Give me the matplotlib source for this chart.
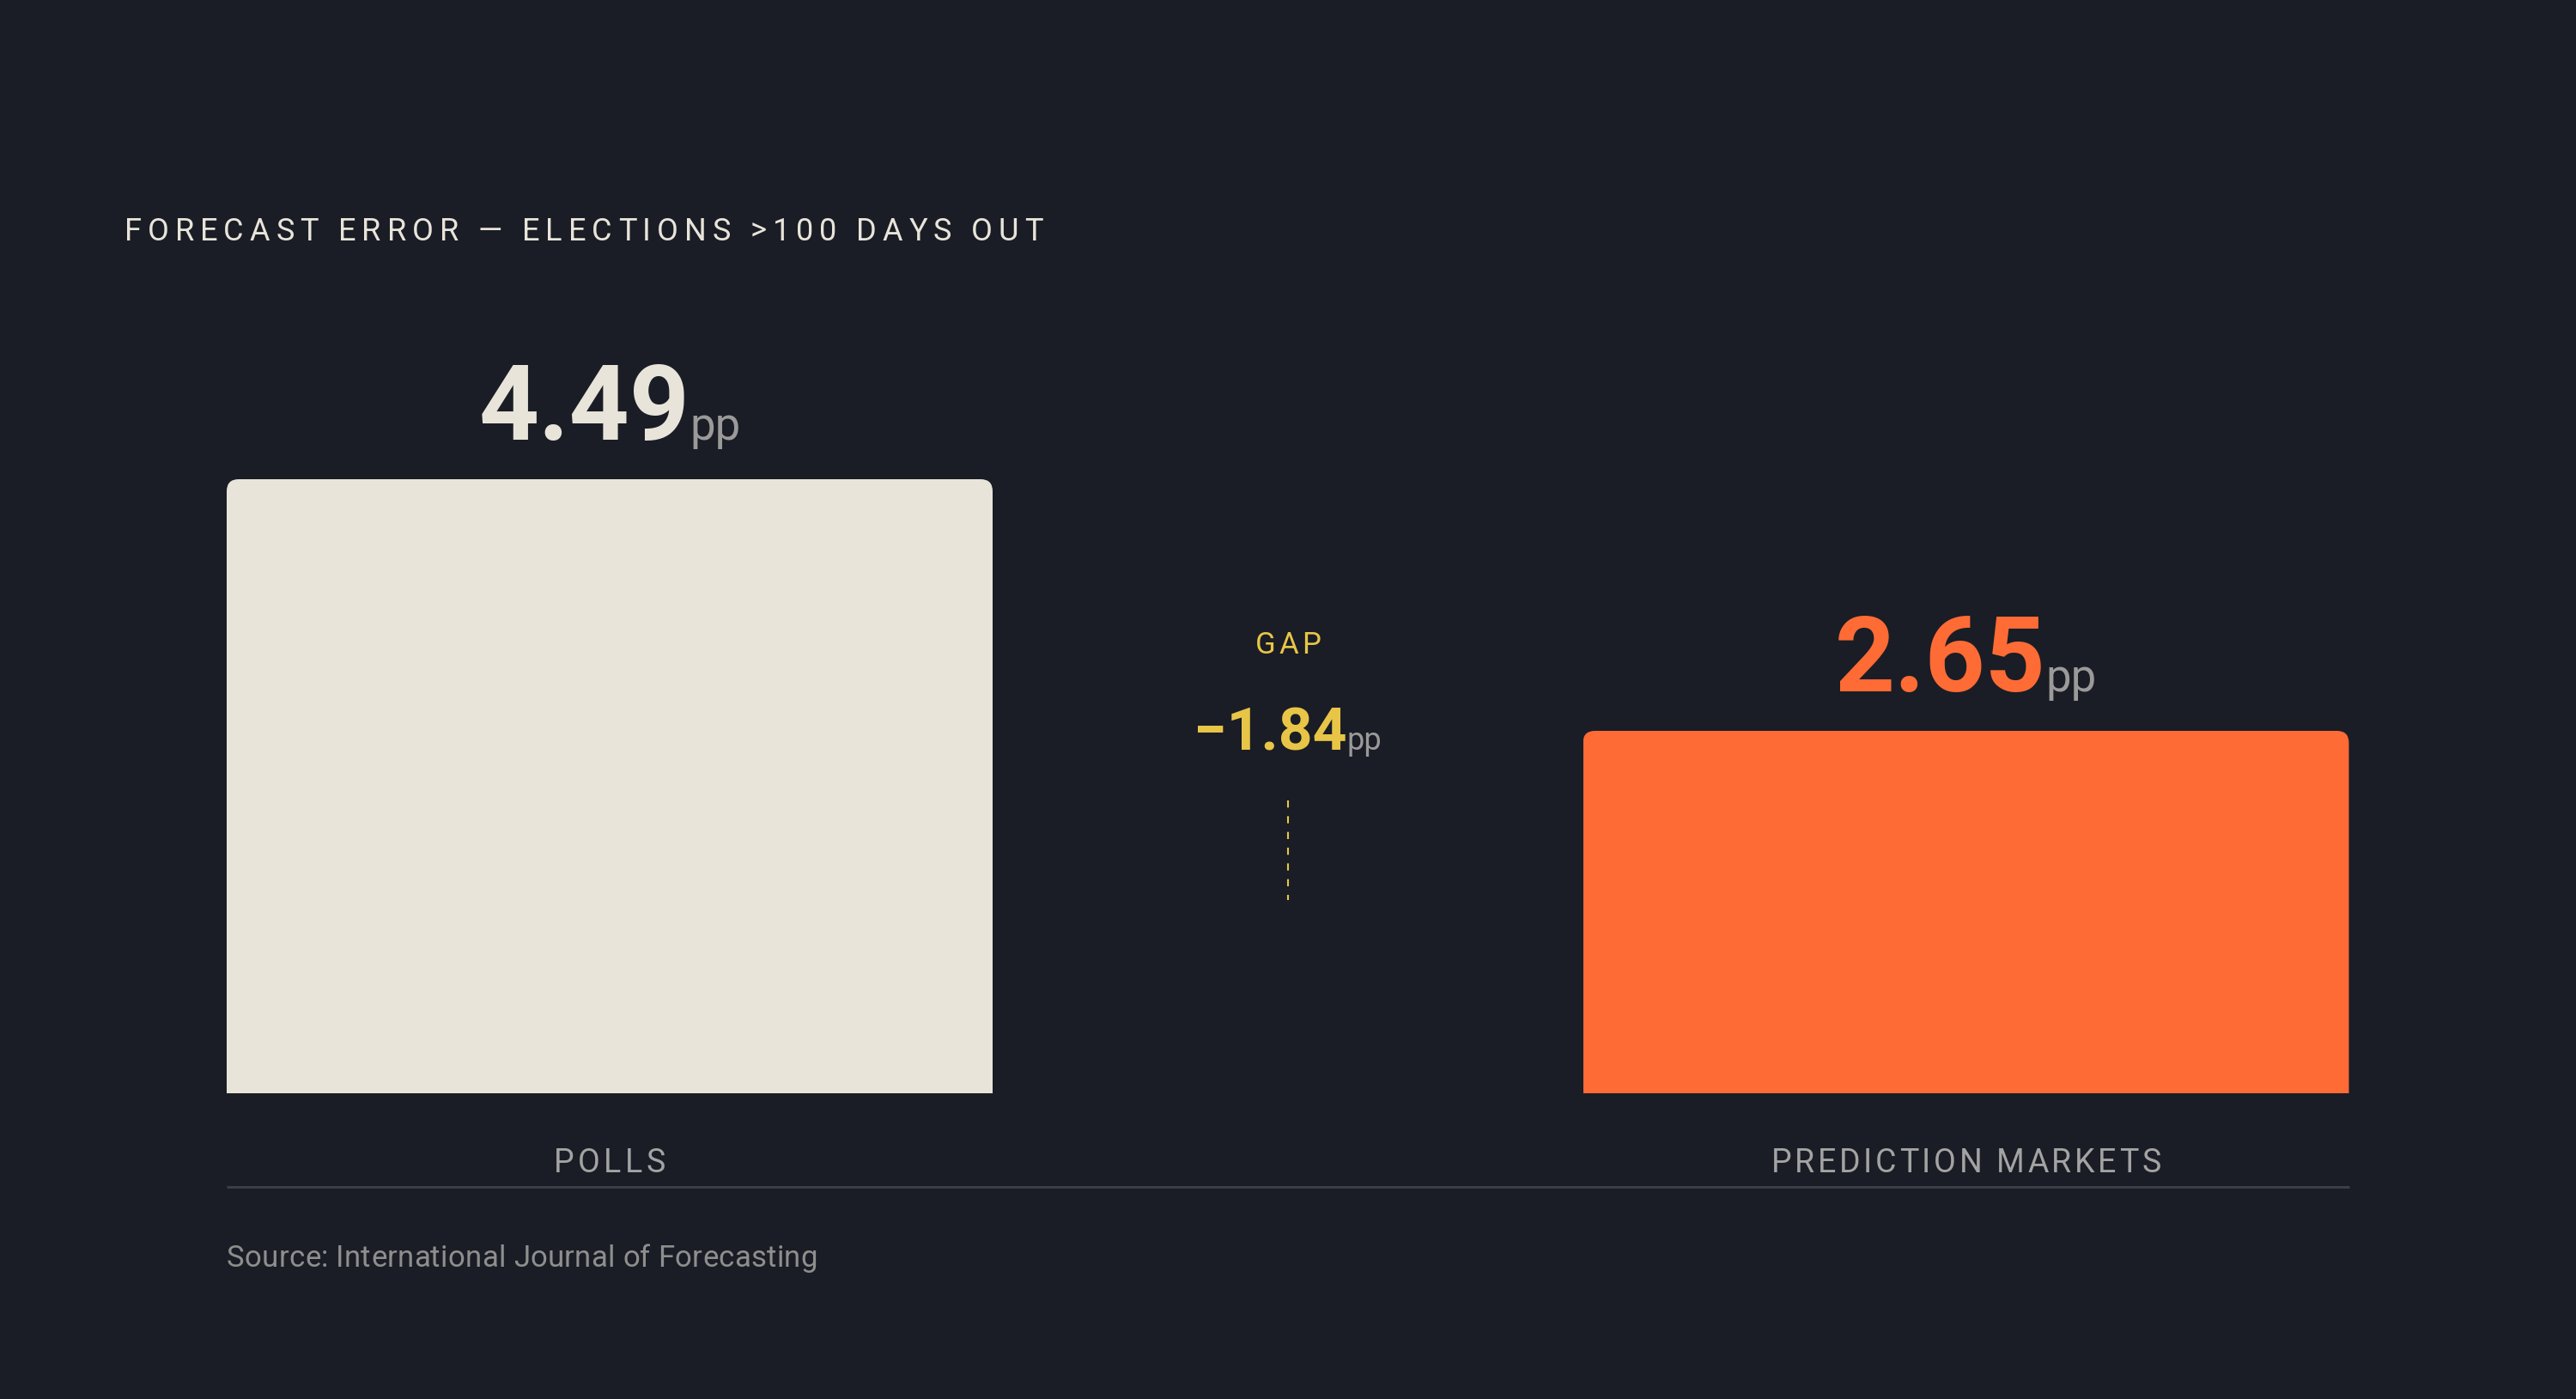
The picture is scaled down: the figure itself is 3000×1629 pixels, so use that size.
import matplotlib
matplotlib.use("Agg")
import matplotlib.pyplot as plt
from matplotlib.patches import FancyBboxPatch
from matplotlib.font_manager import FontProperties
from matplotlib.transforms import IdentityTransform

# ---------------- data ----------------
categories = ["POLLS", "PREDICTION MARKETS"]
values = [4.49, 2.65]
unit = "pp"
title = "FORECAST ERROR — ELECTIONS >100 DAYS OUT"
source = "Source: International Journal of Forecasting"
gap_label = "GAP"

# ---------------- style ----------------
BG = "#1A1D25"
bar_colors = ["#E8E4DA", "#FF6B35"]
value_colors = ["#E8E4DA", "#FF6B35"]
GAP_COLOR = "#E8C547"
UNIT_COLOR = "#9A9A9A"
LABEL_COLOR = "#A3A3A3"
SOURCE_COLOR = "#8E8E8E"
TITLE_COLOR = "#E8E4DA"
RULE_COLOR = "#3B404C"
FAM = ["Roboto", "DejaVu Sans"]

W, H = 3000, 1629
fig = plt.figure(figsize=(W / 100, H / 100), dpi=100, facecolor=BG)
ax = fig.add_axes([0, 0, 1, 1])
ax.set_facecolor(BG)
ax.axis("off")

# layout scale
px_per_x = 1579.5
px_per_y = 715 / 4.49
x0_px = 710
y0_px = H - 1273
ax.set_xlim(-x0_px / px_per_x, (W - x0_px) / px_per_x)
ax.set_ylim(-y0_px / px_per_y, (H - y0_px) / px_per_y)

positions = list(range(len(values)))
bars = ax.bar(positions, values, width=892 / px_per_x, color=bar_colors,
              linewidth=0, zorder=2)
r_px = 14
for rect in bars:
    clip = FancyBboxPatch((rect.get_x(), -1), rect.get_width(), rect.get_height() + 1,
                          boxstyle=f"round,pad=0,rounding_size={r_px / px_per_x}",
                          mutation_aspect=px_per_x / px_per_y,
                          transform=ax.transData, facecolor="none", edgecolor="none")
    rect.set_clip_path(clip)

# baseline rule
x_left = bars[0].get_x()
x_right = bars[-1].get_x() + bars[-1].get_width()
ax.plot([x_left, x_right], [-(1382 - 1273) / px_per_y] * 2, color=RULE_COLOR,
        lw=2.0, solid_capstyle="butt", zorder=1)

fig.canvas.draw()
renderer = fig.canvas.get_renderer()
ID = IdentityTransform()


def fp(size, weight="normal"):
    return FontProperties(family=FAM, size=size, weight=weight)


def tw(s, prop):
    return renderer.get_text_width_height_descent(s, prop, ismath=False)[0]


def draw_tracked(x, y, s, prop, color, ha="left", width=None, tracking=0.0):
    n = len(s)
    nat = tw(s, prop)
    if width is not None and n > 1:
        tracking = (width - nat) / (n - 1)
    total = nat + tracking * (n - 1)
    if ha == "center":
        x -= total / 2
    ref = tw("|", prop)
    for i, ch in enumerate(s):
        if ch == " ":
            continue
        off = (tw(s[:i] + "|", prop) - ref) if i > 0 else 0
        fig.text(x + off + i * tracking, y, ch, fontproperties=prop, color=color,
                 ha="left", va="baseline", transform=ID)
    return total


def draw_value(cx, y, num, num_prop, num_color, unit_prop, gap=3):
    w1 = tw(num, num_prop)
    w2 = tw(unit, unit_prop)
    left = cx - (w1 + gap + w2) / 2
    fig.text(left, y, num, fontproperties=num_prop, color=num_color,
             ha="left", va="baseline", transform=ID)
    fig.text(left + w1 + gap, y, unit, fontproperties=unit_prop, color=UNIT_COLOR,
             ha="left", va="baseline", transform=ID)


# title
draw_tracked(145, H - 280, title, fp(26), TITLE_COLOR, width=1215 - 145)

# value labels + category labels
centers_px = []
for rect, v, c in zip(bars, values, value_colors):
    cx_data = rect.get_x() + rect.get_width() / 2
    cx, top = ax.transData.transform((cx_data, v))
    centers_px.append(cx)
    draw_value(cx, top + 46, f"{v:.2f}", fp(88, "bold"), c, fp(38), gap=0)

for cat, cx in zip(categories, centers_px):
    target = 130 if cat == "POLLS" else 454
    draw_tracked(cx, H - 1365, cat, fp(27), LABEL_COLOR, ha="center", width=target)

# gap annotation
gap = values[1] - values[0]
gx = sum(centers_px) / len(centers_px)
draw_tracked(gx, H - 761, gap_label, fp(25), GAP_COLOR, ha="center", width=76)
draw_value(gx, H - 873, f"\u2212{abs(gap):.2f}", fp(50, "bold"), GAP_COLOR, fp(26), gap=0)
fig.add_artist(plt.Line2D([gx, gx], [H - 932, H - 1048], color=GAP_COLOR, lw=1.5,
                          linestyle=(0, (4, 4.8)), transform=ID))

# source
draw_tracked(264, H - 1475, source, fp(25), SOURCE_COLOR, width=688)

fig.savefig("out.png", dpi=100, facecolor=BG)
